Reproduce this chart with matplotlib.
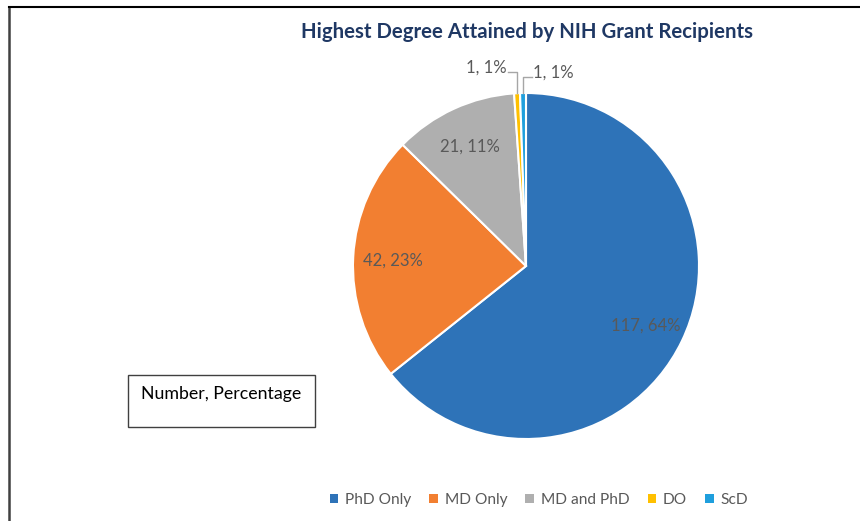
import matplotlib
matplotlib.use("Agg")
import matplotlib.pyplot as plt
from matplotlib.patches import Rectangle
from matplotlib.lines import Line2D
import numpy as np

categories = ["PhD Only", "MD Only", "MD and PhD", "DO", "ScD"]
values = [117, 42, 21, 1, 1]
percents = [64, 23, 11, 1, 1]
colors = ["#2E73B8", "#F27F31", "#AFAFAF", "#FFC000", "#1F9FDD"]
title = "Highest Degree Attained by NIH Grant Recipients"

plt.rcParams['font.family'] = ['Lato', 'DejaVu Sans']

W, H = 860, 521
fig = plt.figure(figsize=(W/100, H/100), dpi=100)

# frame lines (left and top)
fig.add_artist(Line2D([8.5/W, 8.5/W], [0, 1-7/H], color="#404040", lw=1.8))
fig.add_artist(Line2D([8.5/W, 1], [1-7/H, 1-7/H], color="#000000", lw=1.5))

cx, cy, r = 526, 266, 173
ax = fig.add_axes([(cx-r)/W, (H-cy-r)/H, 2*r/W, 2*r/H])
total = sum(values)
wedges, _ = ax.pie(values, colors=colors, startangle=90, counterclock=False,
                   wedgeprops=dict(edgecolor="white", linewidth=1.5))
ax.set_xlim(-1, 1)
ax.set_ylim(-1, 1)
ax.set_aspect("equal")
ax.axis("off")

lab_color = "#595959"
fs = 12
for i, (w, v, p) in enumerate(zip(wedges, values, percents)):
    txt = f"{v}, {p}%"
    ang = np.deg2rad((w.theta1 + w.theta2) / 2)
    if v / total > 0.05:
        d = 0.77
        ax.text(d*np.cos(ang), d*np.sin(ang) - 0.01, txt, ha="center", va="center",
                fontsize=fs, color=lab_color)
    else:
        ex, ey = np.cos(ang), np.sin(ang)
        if i == 3:
            ty, tx = 1.12, ex - 0.05
            ax.plot([ex, ex, tx], [ey, ty, ty], color="#A6A6A6", lw=1, clip_on=False)
            ax.text(tx - 0.01, ty + 0.025, txt, ha="right", va="center",
                    fontsize=fs, color=lab_color)
        else:
            ty, tx = 1.09, ex + 0.05
            ax.plot([ex, ex, tx], [ey, ty, ty], color="#A6A6A6", lw=1, clip_on=False)
            ax.text(tx + 0.01, ty + 0.025, txt, ha="left", va="center",
                    fontsize=fs, color=lab_color)

fig.text(527/W, 1-32/H, title, ha="center", va="center", fontsize=14.7,
         fontweight="bold", color="#1F3864")

# annotation box
fig.add_artist(Rectangle((128/W, 1-427/H), 187/W, 52/H, transform=fig.transFigure,
                         facecolor="white", edgecolor="#404040", lw=1))
fig.text(221/W, 1-394/H, "Number, Percentage", ha="center", va="center",
         fontsize=12.8, color="#000000")

handles = [Rectangle((0, 0), 1, 1, facecolor=c) for c in colors]
leg = fig.legend(handles, categories, loc="center", ncol=5,
                 bbox_to_anchor=(539/W, 1-500/H), frameon=False,
                 handlelength=0.55, handleheight=0.55, handletextpad=0.45,
                 columnspacing=1.15, fontsize=11.2)
for t in leg.get_texts():
    t.set_color(lab_color)

fig.savefig("out.png", dpi=100)
